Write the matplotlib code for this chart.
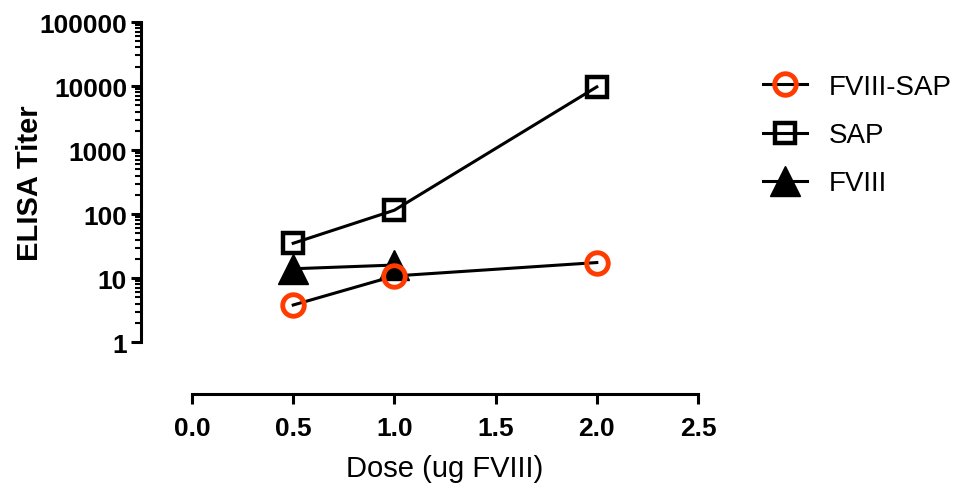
import matplotlib
matplotlib.use("Agg")
import matplotlib.pyplot as plt
from matplotlib.ticker import FixedLocator, NullFormatter

plt.rcParams['font.family'] = ['Liberation Sans', 'DejaVu Sans']

# data
dose = [0.5, 1.0, 2.0]
fviii_sap = [3.8, 10.8, 17.5]
sap = [35, 115, 9700]
fviii_dose = [0.5, 1.0]
fviii = [14, 16]

fig = plt.figure(figsize=(9.66, 4.89), dpi=100)
ax = fig.add_axes([141 / 966, 1 - 395 / 489, (698 - 141) / 966, (395 - 23) / 489])

lw = 2.2
ax.plot(fviii_dose, fviii, color='black', lw=lw, marker='^', ms=22,
        mfc='black', mec='black', label='FVIII', clip_on=False, zorder=3)
ax.plot(dose, sap, color='black', lw=lw, marker='s', ms=14.5, mfc='none',
        mec='black', mew=3.2, label='SAP', clip_on=False, zorder=4)
ax.plot(dose, fviii_sap, color='black', lw=lw, marker='o', ms=15.5, mfc='none',
        mec='#FF3C00', mew=3.5, label='FVIII-SAP', clip_on=False, zorder=5)

ax.set_yscale('log')
ax.set_xlim(-0.252, 2.5)
ax.set_ylim(10 ** -0.81, 1e5)

for s in ['top', 'right']:
    ax.spines[s].set_visible(False)
for s in ['left', 'bottom']:
    ax.spines[s].set_linewidth(2.2)
ax.spines['left'].set_bounds(1, 1e5)
ax.spines['bottom'].set_bounds(0, 2.5)

ax.xaxis.set_major_locator(FixedLocator([0.0, 0.5, 1.0, 1.5, 2.0, 2.5]))
ax.set_xticklabels(['0.0', '0.5', '1.0', '1.5', '2.0', '2.5'])
ax.yaxis.set_major_locator(FixedLocator([1, 10, 100, 1000, 10000, 100000]))
ax.set_yticklabels(['1', '10', '100', '1000', '10000', '100000'])
minor = [m * 10 ** e for e in range(0, 5) for m in range(2, 10)]
ax.yaxis.set_minor_locator(FixedLocator(minor))
ax.yaxis.set_minor_formatter(NullFormatter())
ax.tick_params(axis='both', which='major', direction='out', length=7, width=2.2,
               labelsize=19, pad=3)
ax.tick_params(axis='x', which='major', pad=9)
ax.tick_params(axis='y', which='minor', direction='out', length=4, width=1.5)
for lab in ax.get_xticklabels() + ax.get_yticklabels():
    lab.set_fontweight('bold')

ax.set_xlabel('Dose (ug FVIII)', fontsize=21, labelpad=10)
ax.set_ylabel('ELISA Titer', fontsize=21, fontweight='bold', labelpad=-3)
ax.xaxis.label.set_x((445 - 141) / 557)
ax.yaxis.label.set_y((395 - 183) / 372)

handles, labels = ax.get_legend_handles_labels()
ax.legend(handles[::-1], labels[::-1], loc='upper left',
          bbox_to_anchor=(763 / 966, 1 - 75 / 489), bbox_transform=fig.transFigure,
          frameon=False, fontsize=20, handlelength=1.6, handletextpad=0.75,
          labelspacing=0.8, borderpad=0, borderaxespad=0)

fig.savefig('out.png', dpi=100)
